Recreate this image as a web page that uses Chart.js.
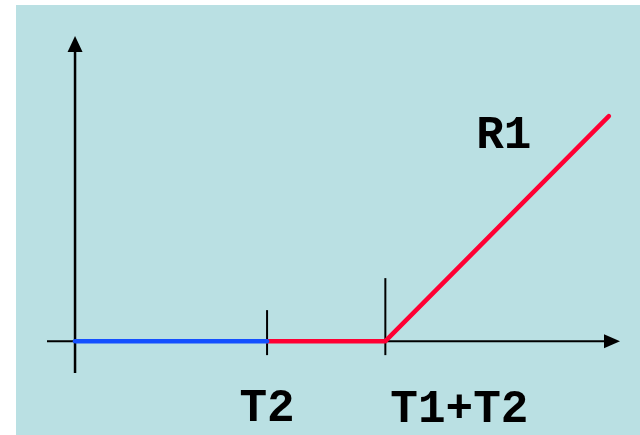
<!DOCTYPE html>
<html>
<head>
<meta charset="utf-8">
<script src="https://cdn.jsdelivr.net/npm/chart.js@4"></script>
<style>
  html, body { margin: 0; padding: 0; background: #ffffff; }
  #wrap { position: absolute; left: 0; top: 0; width: 640px; height: 435px; }
</style>
</head>
<body>
<div id="wrap"><canvas id="chart" width="640" height="435"></canvas></div>
<script>
// time axis marks (T2 and T1+T2), in the same units as the data
var markValues = [5, 8.08];
var markLabels = ["T2", "T1+T2"];

// blue segment: 0 .. T2 at zero
var blueX = [0, 5];
var blueY = [0, 0];

// red segment: flat from T2 to T1+T2, then ramp R1
var redX = [5, 8.08, 13.9];
var redY = [0, 0, 5.86];
var redLabel = "R1";

function toPoints(xs, ys) {
  return xs.map(function (x, i) { return { x: x, y: ys[i] }; });
}

var BG = '#bae0e3';
var FONT = "bold 46px 'Courier New', 'Liberation Mono', monospace";

var bgPlugin = {
  id: 'bg',
  beforeDraw: function (chart) {
    var ctx = chart.ctx;
    ctx.save();
    ctx.fillStyle = BG;
    ctx.fillRect(16, 5, chart.width - 16, chart.height - 5);
    ctx.restore();
  }
};

// hand-drawn style axes with arrow heads, tick marks and labels
var axesPlugin = {
  id: 'arrowAxes',
  beforeDatasetsDraw: function (chart) {
    var ctx = chart.ctx;
    var xs = chart.scales.x, ys = chart.scales.y;
    var area = chart.chartArea;
    var x0 = xs.getPixelForValue(0);
    var y0 = ys.getPixelForValue(0);
    ctx.save();
    ctx.strokeStyle = '#000';
    ctx.fillStyle = '#000';

    // y axis
    ctx.lineWidth = 2.5;
    ctx.beginPath();
    ctx.moveTo(x0, area.bottom);
    ctx.lineTo(x0, area.top + 12);
    ctx.stroke();
    ctx.beginPath();
    ctx.moveTo(x0, area.top - 1);
    ctx.lineTo(x0 - 7.5, area.top + 15);
    ctx.lineTo(x0 + 7.5, area.top + 15);
    ctx.closePath();
    ctx.fill();

    // x axis
    ctx.lineWidth = 2;
    ctx.beginPath();
    ctx.moveTo(area.left, y0);
    ctx.lineTo(area.right - 12, y0);
    ctx.stroke();
    ctx.beginPath();
    ctx.moveTo(area.right, y0);
    ctx.lineTo(area.right - 16, y0 - 7);
    ctx.lineTo(area.right - 16, y0 + 7);
    ctx.closePath();
    ctx.fill();

    // tick marks at T2 and T1+T2
    var tickTop = [31, 63];
    markValues.forEach(function (v, i) {
      var px = xs.getPixelForValue(v);
      ctx.beginPath();
      ctx.moveTo(px, y0 - tickTop[i]);
      ctx.lineTo(px, y0 + 14);
      ctx.stroke();
    });
    ctx.restore();
  },
  afterDatasetsDraw: function (chart) {
    var ctx = chart.ctx;
    var xs = chart.scales.x, ys = chart.scales.y;
    ctx.save();
    ctx.fillStyle = '#000';
    ctx.font = FONT;
    ctx.textBaseline = 'alphabetic';

    var p = xs.getPixelForValue(markValues[0]);
    ctx.textAlign = 'center';
    ctx.fillText(markLabels[0], p, 421);

    p = xs.getPixelForValue(markValues[1]);
    ctx.textAlign = 'left';
    ctx.fillText(markLabels[1], p + 5, 422);

    var n = redX.length - 1;
    var ex = xs.getPixelForValue(redX[n]);
    var ey = ys.getPixelForValue(redY[n]);
    ctx.textAlign = 'center';
    ctx.fillText(redLabel, ex - 105, ey + 32);
    ctx.restore();
  }
};

var ctx = document.getElementById('chart').getContext('2d');
new Chart(ctx, {
  type: 'line',
  data: {
    datasets: [{
      label: 'blue',
      data: toPoints(blueX, blueY),
      borderColor: '#1450ff',
      borderWidth: 4.5,
      borderCapStyle: 'round',
      pointRadius: 0,
      tension: 0,
      clip: false
    }, {
      label: 'red',
      data: toPoints(redX, redY),
      borderColor: '#ff0033',
      borderWidth: 4.5,
      borderCapStyle: 'round',
      borderJoinStyle: 'round',
      pointRadius: 0,
      tension: 0,
      clip: false
    }]
  },
  options: {
    responsive: false,
    animation: false,
    events: [],
    layout: { padding: { left: 47, right: 20, top: 37, bottom: 62 } },
    plugins: {
      legend: { display: false },
      tooltip: { enabled: false }
    },
    scales: {
      x: { type: 'linear', min: -0.73, max: 14.19, display: false },
      y: { type: 'linear', min: -0.83, max: 7.92, display: false }
    }
  },
  plugins: [bgPlugin, axesPlugin]
});
</script>
</body>
</html>
